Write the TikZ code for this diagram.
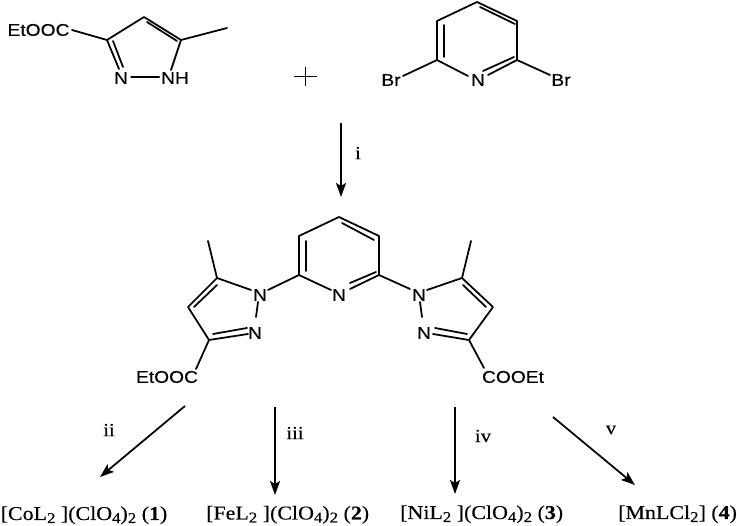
\documentclass[tikz,border=0pt]{standalone}
\usepackage{fontspec}
\usetikzlibrary{arrows.meta}
\setmainfont[FakeStretch=1.12,FakeBold=0.25]{Liberation Serif}
\newfontfamily\chemfont[FakeStretch=1.13,FakeBold=0.3]{Liberation Sans}
\newcommand{\sbs}[1]{\raisebox{-3pt}{\fontsize{15}{15}\selectfont #1}}
\tikzset{
  bond/.style={line width=1.75pt,line cap=round,line join=round},
  atom/.style={inner sep=0pt,font=\chemfont\fontsize{17}{18}\selectfont,text=black},
  rxn/.style={line width=1.75pt,-{Stealth[length=14pt,width=10pt,inset=3pt]}},
  condlabel/.style={inner sep=0pt,font=\fontsize{18.5}{19}\selectfont},
  product/.style={inner sep=0pt,anchor=base west,font=\fontsize{19.6}{21}\selectfont},
}
\begin{document}
\begin{tikzpicture}[x=1pt,y=-1pt]
\path[use as bounding box] (0,0) rectangle (737,526);

% --- methylpyrazole ester ---
\node[atom] (est1) at (38.5,30) {EtOOC};
\node[atom] (pn2) at (121,78) {N};
\node[atom] (pnh) at (175,78) {NH};
\coordinate (pc3) at (107,40);
\coordinate (pc4) at (144,17);
\coordinate (pc5) at (181,40);
\coordinate (pme) at (227,28);
\coordinate (pi1) at (113,41);
\coordinate (pi2) at (123,67);
\coordinate (pi3) at (147,22);
\coordinate (pi4) at (177,41);
\draw[bond] (72,30) -- (pc3) -- (pc4) -- (pc5) -- (pme);
\draw[bond] (pc3) -- (119,69);
\draw[bond] (pi1) -- (pi2);
\draw[bond] (pi3) -- (pi4);
\draw[bond] (pc5) -- (171,70);
\draw[bond] (pn2.east) ++(3,-1) -- ++(28,0);

% --- plus ---
\coordinate (plusc) at (305.5,76.5);
\draw[line width=1.3pt] (294,76.5) -- (317,76.5) (305.5,67) -- (305.5,86);

% --- dibromopyridine ---
\node[atom] (br1) at (391,80) {Br};
\node[atom] (br2) at (561,80) {Br};
\node[atom] (dn) at (478,80) {N};
\coordinate (da) at (477,2);
\coordinate (db) at (437,21);
\coordinate (dc) at (437,60);
\coordinate (dd) at (517,60);
\coordinate (de) at (517,21);
\draw[bond] (dc) -- (db) -- (da) -- (de) -- (dd);
\draw[bond] (dc) -- (468,76);
\draw[bond] (dd) -- (488,75);
\draw[bond] (483,71) -- (514,57);
\draw[bond] (444,25) -- (444,57);
\draw[bond] (480,7) -- (515,24);
\draw[bond] (dc) -- (403,76);
\draw[bond] (dd) -- (550,75);

% --- arrow i ---
\coordinate (ai1) at (341,123);
\coordinate (ai2) at (341,197);
\draw[rxn] (ai1) -- (ai2);
\node[condlabel] (li) at (358,153) {i};

% --- product: pyridine ---
\node[atom] (qn) at (339,295) {N};
\coordinate (qa) at (339,217);
\coordinate (qb) at (299,236);
\coordinate (qc) at (299,275);
\coordinate (qd) at (379,275);
\coordinate (qe) at (379,236);
\draw[bond] (qc) -- (qb) -- (qa) -- (qe) -- (qd);
\draw[bond] (qc) -- (331,290);
\draw[bond] (qd) -- (350,289);
\draw[bond] (350,283) -- (376,272);
\draw[bond] (306,241) -- (306,271);
\draw[bond] (342,223) -- (374,240);

% --- product: left pyrazole ---
\node[atom] (ln1) at (260,295) {N};
\node[atom] (ln2) at (255,333) {N};
\node[atom] (lest) at (167,377) {EtOOC};
\coordinate (lc3) at (209,340);
\coordinate (lc4) at (188,307);
\coordinate (lc5) at (217,278);
\coordinate (lme) at (208,241);
\draw[bond] (qc) -- (268,290);
\draw[bond] (lc5) -- (251,290);
\draw[bond] (lme) -- (lc5) -- (lc4) -- (lc3) -- (196,369);
\draw[bond] (258,302) -- (256,317);
\draw[bond] (lc3) -- (248,334);
\draw[bond] (213,334) -- (247,328);
\draw[bond] (194,307) -- (217,285);

% --- product: right pyrazole ---
\node[atom] (rn1) at (419,295) {N};
\node[atom] (rn2) at (424,333) {N};
\node[atom] (rest) at (513,377) {COOEt};
\coordinate (rc3) at (469,340);
\coordinate (rc4) at (493,307);
\coordinate (rc5) at (462,278);
\coordinate (rme) at (471,241);
\draw[bond] (qd) -- (410,289);
\draw[bond] (rc5) -- (427,290);
\draw[bond] (rme) -- (rc5) -- (rc4) -- (rc3) -- (484,368);
\draw[bond] (420,302) -- (422,317);
\draw[bond] (rc3) -- (433,334);
\draw[bond] (435,328) -- (467,334);
\draw[bond] (463,285) -- (486,307);

% --- reaction arrows ---
\coordinate (a21) at (185,406);
\coordinate (a22) at (100,477);
\coordinate (a31) at (275,407);
\coordinate (a32) at (275,495);
\coordinate (a41) at (455,407);
\coordinate (a42) at (455,494);
\coordinate (a51) at (553,417);
\coordinate (a52) at (635,485);
\draw[rxn] (a21) -- (a22);
\draw[rxn] (a31) -- (a32);
\draw[rxn] (a41) -- (a42);
\draw[rxn] (a51) -- (a52);
\node[condlabel] (lii) at (109,430) {ii};
\node[condlabel] (liii) at (295,433) {iii};
\node[condlabel] (liv) at (483,436) {iv};
\node[condlabel] (lv) at (611,430) {v};

% --- products ---
\node[product] (p1) at (0.5,520) {[CoL\sbs{2} ](ClO\sbs{4})\sbs{2} (\textbf{1})};
\node[product] (p2) at (206,519.5) {[FeL\sbs{2} ](ClO\sbs{4})\sbs{2} (\textbf{2})};
\node[product] (p3) at (400,519) {[NiL\sbs{2} ](ClO\sbs{4})\sbs{2} (\textbf{3})};
\node[product] (p4) at (618,519) {[MnLCl\sbs{2}] (\textbf{4})};
\end{tikzpicture}
\end{document}
